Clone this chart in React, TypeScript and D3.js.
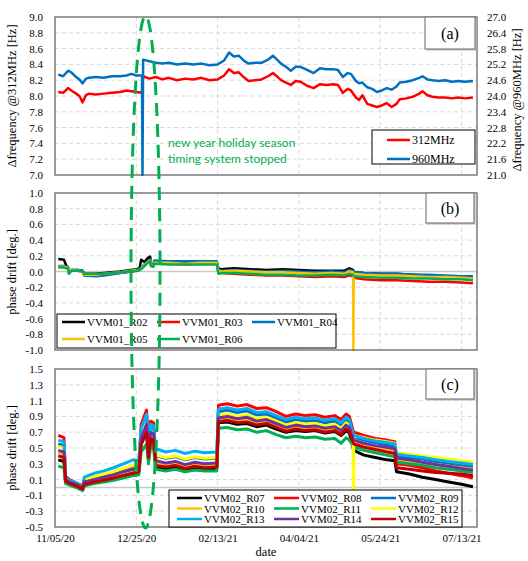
import * as d3 from "d3";
import { useRef, useEffect } from "react";

// x values are days since 11/05/20
const startLabel = "11/05/20";
const xTickLabels = ["11/05/20", "12/25/20", "02/13/21", "04/04/21", "05/24/21", "07/13/21"];

// (a) frequency, 312MHz on left axis, 960MHz on right axis
const daysA = [2, 5, 8, 10, 13, 15, 17, 19, 21, 25, 30, 35, 40, 44, 47, 50, 53.5, 53.8, 54.2, 58,
  62, 66, 70, 75, 80, 85, 90, 95, 100, 104, 107, 110, 113, 116, 119, 123, 127, 131, 134, 137,
  139, 142, 145, 148, 151, 155, 159, 163, 167, 171, 174, 177, 180, 182, 185, 187, 189, 192, 195, 198,
  201, 204, 207, 210, 212, 216, 220, 224, 226, 229, 232, 236, 240, 244, 248, 252, 257];
const f312 = [8.05, 8.04, 8.10, 8.07, 8.03, 8.00, 7.92, 8.01, 8.03, 8.02, 8.03, 8.04, 8.05, 8.07, 8.06, 8.05, 8.04, 8.15, 8.25, 8.22,
  8.24, 8.21, 8.23, 8.20, 8.22, 8.21, 8.23, 8.20, 8.21, 8.26, 8.34, 8.29, 8.30, 8.24, 8.19, 8.20, 8.21, 8.25, 8.29, 8.24,
  8.20, 8.17, 8.14, 8.19, 8.18, 8.13, 8.10, 8.15, 8.14, 8.15, 8.14, 8.04, 8.09, 8.07, 7.98, 7.95, 8.01, 7.90, 7.88, 7.86,
  7.88, 7.91, 7.86, 7.90, 7.96, 7.97, 7.99, 8.03, 8.06, 8.01, 7.99, 7.98, 7.98, 7.97, 7.98, 7.97, 7.98];
const f960 = [24.81, 24.75, 24.96, 24.90, 24.72, 24.63, 24.48, 24.66, 24.69, 24.72, 24.69, 24.75, 24.75, 24.78, 24.84, 24.78, 24.78, 21.0, 25.38, 25.32,
  25.26, 25.23, 25.26, 25.20, 25.23, 25.20, 25.23, 25.17, 25.20, 25.35, 25.65, 25.50, 25.53, 25.35, 25.23, 25.26, 25.26, 25.38, 25.53, 25.35,
  25.23, 25.11, 24.96, 25.11, 25.11, 24.99, 24.87, 25.05, 25.02, 25.02, 24.99, 24.72, 24.87, 24.84, 24.57, 24.48, 24.51, 24.33, 24.27, 24.15,
  24.21, 24.30, 24.24, 24.36, 24.51, 24.54, 24.60, 24.69, 24.75, 24.63, 24.60, 24.57, 24.60, 24.54, 24.57, 24.54, 24.57];

// (b) VVM01 phase drift
const daysB = [2, 5.5, 7, 8, 8.6, 10, 14, 17, 18, 25, 30, 40, 50, 52, 53, 55, 57, 58.5, 59, 60.5,
  61, 70, 80, 90, 99.5, 100.5, 102, 110, 120, 130, 140, 150, 160, 170, 178, 181, 183.3, 183.5, 183.7, 190,
  200, 210, 220, 230, 240, 250, 257];
const r02 = [0.16, 0.15, 0.07, 0.06, -0.02, 0.02, 0.02, 0.01, -0.03, -0.03, -0.02, 0.0, 0.03, 0.04, 0.15, 0.12, 0.17, 0.19, 0.09, 0.08,
  0.12, 0.12, 0.11, 0.12, 0.12, 0.04, 0.03, 0.04, 0.03, 0.02, 0.03, 0.02, 0.01, 0.01, 0.01, 0.04, 0.02, 0.01, -0.01, -0.02,
  -0.03, -0.03, -0.04, -0.05, -0.06, -0.07, -0.08];
const r03 = [0.06, 0.06, 0.05, 0.05, -0.02, 0.02, 0.01, 0.0, -0.05, -0.05, -0.04, -0.02, 0.01, 0.02, 0.04, 0.08, 0.12, 0.14, 0.08, 0.07,
  0.11, 0.10, 0.09, 0.10, 0.10, 0.0, -0.02, -0.03, -0.04, -0.05, -0.05, -0.06, -0.07, -0.06, -0.07, -0.05, -0.06, -0.07, -0.08, -0.10,
  -0.11, -0.11, -0.12, -0.13, -0.13, -0.14, -0.15];
const r04 = [0.07, 0.07, 0.06, 0.05, -0.02, 0.02, 0.02, 0.01, -0.05, -0.06, -0.05, -0.02, 0.01, 0.02, 0.05, 0.09, 0.13, 0.15, 0.08, 0.08,
  0.14, 0.13, 0.13, 0.13, 0.13, 0.02, 0.01, 0.02, 0.01, 0.0, 0.01, 0.0, -0.01, 0.0, -0.01, 0.02, 0.01, 0.0, -0.01, -0.02,
  -0.03, -0.03, -0.04, -0.04, -0.05, -0.06, -0.06];
const r05 = [0.06, 0.06, 0.05, 0.05, -0.02, 0.02, 0.01, 0.0, -0.04, -0.04, -0.03, -0.01, 0.02, 0.02, 0.04, 0.08, 0.12, 0.14, 0.07, 0.07,
  0.11, 0.11, 0.10, 0.11, 0.11, 0.01, 0.0, 0.01, 0.0, -0.01, -0.01, -0.02, -0.03, -0.02, -0.03, 0.0, -0.01, -1.0, -0.03, -0.04,
  -0.05, -0.05, -0.06, -0.07, -0.07, -0.08, -0.09];
const r06 = [0.05, 0.05, 0.04, 0.04, -0.03, 0.01, 0.01, 0.0, -0.03, -0.03, -0.03, -0.01, 0.01, 0.02, 0.03, 0.07, 0.11, 0.13, 0.07, 0.06,
  0.10, 0.09, 0.09, 0.09, 0.09, -0.03, -0.02, -0.02, -0.03, -0.04, -0.04, -0.05, -0.05, -0.04, -0.05, -0.03, -0.04, -0.05, -0.06, -0.07,
  -0.08, -0.08, -0.09, -0.09, -0.10, -0.10, -0.11];

// (c) VVM02 phase drift
const daysC = [2, 5.5, 6.5, 9, 13, 17, 18, 24, 30, 36, 42, 48, 51.5, 53, 56.3, 57.5, 58.8, 60.6, 62, 68,
  74, 80, 86, 92, 99.5, 100.5, 106, 112, 118, 124, 130, 136, 142, 148, 154, 160, 166, 172, 176, 179,
  181, 183.3, 183.5, 183.7, 190, 197, 204, 209, 210, 218, 226, 234, 242, 250, 257];
const r07 = [0.35, 0.33, 0.08, 0.05, 0.02, -0.02, 0.03, 0.07, 0.09, 0.11, 0.14, 0.17, 0.19, 0.55, 0.70, 0.35, 0.60, 0.58, 0.25, 0.24,
  0.26, 0.22, 0.25, 0.23, 0.24, 0.82, 0.83, 0.80, 0.81, 0.77, 0.79, 0.74, 0.70, 0.72, 0.71, 0.72, 0.69, 0.71, 0.66, 0.72,
  0.69, 0.50, 0.48, 0.47, 0.41, 0.38, 0.35, 0.34, 0.20, 0.17, 0.13, 0.10, 0.07, 0.04, 0.01];
const r08 = [0.66, 0.63, 0.14, 0.10, 0.06, 0.02, 0.06, 0.09, 0.12, 0.14, 0.17, 0.20, 0.22, 0.80, 0.98, 0.55, 0.84, 0.82, 0.32, 0.30,
  0.31, 0.28, 0.30, 0.29, 0.30, 1.04, 1.06, 1.03, 1.05, 1.00, 1.01, 0.96, 0.90, 0.93, 0.91, 0.92, 0.89, 0.91, 0.86, 0.93,
  0.90, 0.72, 0.71, 0.70, 0.66, 0.62, 0.60, 0.58, 0.30, 0.28, 0.25, 0.21, 0.18, 0.15, 0.12];
const r09 = [0.55, 0.53, 0.10, 0.07, 0.04, 0.0, 0.09, 0.13, 0.16, 0.19, 0.23, 0.27, 0.28, 0.70, 0.88, 0.48, 0.76, 0.74, 0.40, 0.37,
  0.39, 0.35, 0.38, 0.36, 0.37, 0.96, 0.98, 0.95, 0.97, 0.92, 0.93, 0.88, 0.83, 0.86, 0.84, 0.85, 0.82, 0.84, 0.79, 0.86,
  0.83, 0.66, 0.65, 0.64, 0.60, 0.57, 0.54, 0.52, 0.40, 0.38, 0.36, 0.33, 0.31, 0.28, 0.26];
const r10 = [0.44, 0.42, 0.09, 0.06, 0.03, -0.01, 0.06, 0.10, 0.13, 0.15, 0.19, 0.22, 0.23, 0.60, 0.78, 0.42, 0.68, 0.66, 0.31, 0.29,
  0.31, 0.27, 0.30, 0.28, 0.29, 0.85, 0.87, 0.84, 0.86, 0.81, 0.83, 0.78, 0.73, 0.76, 0.74, 0.75, 0.72, 0.74, 0.69, 0.76,
  0.73, 0.60, 0.59, 0.58, 0.54, 0.51, 0.48, 0.46, 0.35, 0.33, 0.31, 0.29, 0.27, 0.25, 0.23];
const r11 = [0.27, 0.25, 0.05, 0.03, 0.0, -0.04, 0.02, 0.05, 0.07, 0.09, 0.12, 0.15, 0.16, 0.45, 0.55, 0.30, 0.52, 0.50, 0.23, 0.21,
  0.23, 0.20, 0.22, 0.21, 0.21, 0.75, 0.76, 0.73, 0.74, 0.70, 0.72, 0.67, 0.63, 0.65, 0.63, 0.64, 0.61, 0.62, 0.56, 0.63,
  0.60, 0.53, 0.52, 0.51, 0.47, 0.44, 0.41, 0.39, 0.32, 0.30, 0.28, 0.25, 0.23, 0.21, 0.19];
const r12 = [0.52, 0.50, 0.11, 0.08, 0.05, 0.0, 0.10, 0.14, 0.17, 0.20, 0.24, 0.28, 0.29, 0.68, 0.85, 0.46, 0.72, 0.70, 0.41, 0.38,
  0.40, 0.36, 0.39, 0.37, 0.38, 0.91, 0.93, 0.90, 0.92, 0.87, 0.89, 0.84, 0.79, 0.82, 0.80, 0.81, 0.78, 0.80, 0.75, 0.82,
  0.79, 0.68, -0.5, 0.66, 0.63, 0.60, 0.58, 0.56, 0.44, 0.42, 0.40, 0.38, 0.36, 0.34, 0.32];
const r13 = [0.60, 0.58, 0.12, 0.09, 0.06, 0.01, 0.13, 0.18, 0.21, 0.25, 0.30, 0.35, 0.34, 0.75, 0.93, 0.52, 0.80, 0.78, 0.49, 0.45,
  0.47, 0.43, 0.46, 0.44, 0.45, 0.99, 1.01, 0.98, 1.00, 0.95, 0.96, 0.91, 0.86, 0.89, 0.87, 0.88, 0.85, 0.87, 0.82, 0.89,
  0.86, 0.68, 0.67, 0.66, 0.62, 0.59, 0.57, 0.55, 0.42, 0.40, 0.38, 0.35, 0.33, 0.31, 0.29];
const r14 = [0.47, 0.45, 0.10, 0.07, 0.04, 0.0, 0.07, 0.10, 0.13, 0.16, 0.20, 0.23, 0.24, 0.62, 0.80, 0.43, 0.70, 0.68, 0.34, 0.31,
  0.33, 0.29, 0.32, 0.30, 0.31, 0.88, 0.90, 0.87, 0.89, 0.84, 0.86, 0.81, 0.76, 0.79, 0.77, 0.78, 0.75, 0.77, 0.72, 0.79,
  0.76, 0.62, 0.61, 0.60, 0.56, 0.53, 0.51, 0.49, 0.37, 0.35, 0.32, 0.29, 0.27, 0.24, 0.22];
const r15 = [0.40, 0.38, 0.08, 0.05, 0.02, -0.02, 0.04, 0.07, 0.09, 0.12, 0.15, 0.18, 0.20, 0.55, 0.70, 0.38, 0.62, 0.60, 0.28, 0.26,
  0.28, 0.24, 0.27, 0.25, 0.26, 0.83, 0.85, 0.82, 0.83, 0.79, 0.81, 0.76, 0.71, 0.74, 0.72, 0.73, 0.70, 0.72, 0.67, 0.74,
  0.71, 0.57, 0.56, 0.55, 0.51, 0.48, 0.45, 0.43, 0.25, 0.23, 0.21, 0.19, 0.18, 0.17, 0.15];

const aLeftTicks = [7.0, 7.2, 7.4, 7.6, 7.8, 8.0, 8.2, 8.4, 8.6, 8.8, 9.0];
const aRightTicks = [21.0, 21.6, 22.2, 22.8, 23.4, 24.0, 24.6, 25.2, 25.8, 26.4, 27.0];
const bTicks = [-1.0, -0.8, -0.6, -0.4, -0.2, 0.0, 0.2, 0.4, 0.6, 0.8, 1.0];
const cTicks = [-0.5, -0.3, -0.1, 0.1, 0.3, 0.5, 0.7, 0.9, 1.1, 1.3, 1.5];

const serif = "'Liberation Serif', 'Times New Roman', serif";
const left = 55, right = 477;

export default function App() {
  const ref = useRef<SVGSVGElement>(null);

  useEffect(() => {
    const svg = d3.select(ref.current);
    svg.selectAll("*").remove();

    const parse = d3.timeParse("%m/%d/%y");
    const t0 = parse(startLabel)!;
    const toDate = (d: number) => new Date(t0.getTime() + d * 864e5);
    const x = d3.scaleTime().domain([t0, toDate(259.5)]).range([left, right]);
    const xTicks = xTickLabels.map((s) => parse(s)!);

    // one panel frame + grid, returns y scale
    const panel = (top: number, bottom: number, domain: number[], ticks: number[], zero: boolean) => {
      const y = d3.scaleLinear().domain(domain).range([bottom, top]);
      const g = svg.append("g");
      g.selectAll(".hg").data(ticks.slice(1, -1)).enter().append("line")
        .attr("x1", left).attr("x2", right)
        .attr("y1", (d) => y(d)).attr("y2", (d) => y(d))
        .attr("stroke", "#d9d9d9").attr("stroke-dasharray", "4 3");
      g.selectAll(".vg").data(xTicks.slice(1)).enter().append("line")
        .attr("x1", (d) => x(d)).attr("x2", (d) => x(d))
        .attr("y1", top).attr("y2", bottom)
        .attr("stroke", "#d9d9d9").attr("stroke-dasharray", "4 3");
      if (zero) {
        g.append("line").attr("x1", left).attr("x2", right)
          .attr("y1", y(0)).attr("y2", y(0))
          .attr("stroke", "#c8c8c8").attr("stroke-width", 1.5);
      }
      const ax = svg.append("g").attr("transform", `translate(${left},0)`)
        .call(d3.axisLeft(y).tickValues(ticks).tickSize(0).tickPadding(12).tickFormat((d) => (+d).toFixed(1)));
      ax.select(".domain").remove();
      ax.attr("font-family", serif).attr("font-size", 11);
      ax.selectAll("text").attr("fill", "#000");
      return y;
    };

    const drawLine = (days: number[], vals: number[], y: any, color: string, w: number) => {
      const pts = days.map((d, i) => [d, vals[i]] as [number, number]);
      svg.append("path").datum(pts)
        .attr("fill", "none").attr("stroke", color).attr("stroke-width", w)
        .attr("stroke-linejoin", "round")
        .attr("d", d3.line<[number, number]>().x((p) => x(toDate(p[0]))).y((p) => y(p[1])));
    };

    const frame = (top: number, bottom: number) => {
      svg.append("rect").attr("x", left).attr("y", top).attr("width", right - left).attr("height", bottom - top)
        .attr("fill", "none").attr("stroke", "#595959").attr("stroke-width", 1.2);
    };

    const labelBox = (bx: number, by: number, w: number, h: number, txt: string) => {
      svg.append("rect").attr("x", bx + 1.5).attr("y", by + 1.5).attr("width", w).attr("height", h).attr("fill", "#bfbfbf");
      svg.append("rect").attr("x", bx).attr("y", by).attr("width", w).attr("height", h)
        .attr("fill", "#fff").attr("stroke", "#7f7f7f").attr("stroke-width", 1.2);
      svg.append("text").attr("x", bx + w / 2).attr("y", by + h / 2 + 5.5).attr("text-anchor", "middle")
        .attr("font-family", serif).attr("font-size", 16).text(txt);
    };

    const legend = (bx: number, by: number, w: number, h: number, items: [string, string][], cols: number,
      colW: number, rowY: number[], lineW: number, x0: number, fs: number) => {
      svg.append("rect").attr("x", bx).attr("y", by).attr("width", w).attr("height", h)
        .attr("fill", "#fff").attr("stroke", "#000").attr("stroke-width", 1);
      items.forEach(([name, color], i) => {
        const cx = x0 + (i % cols) * colW;
        const cy = rowY[Math.floor(i / cols)];
        svg.append("line").attr("x1", cx).attr("x2", cx + lineW).attr("y1", cy).attr("y2", cy)
          .attr("stroke", color).attr("stroke-width", 2.5);
        svg.append("text").attr("x", cx + lineW + 2).attr("y", cy + 4).attr("font-family", serif)
          .attr("font-size", fs).text(name);
      });
    };

    const yTitle = (cx: number, cy: number, txt: string) => {
      svg.append("text").attr("transform", `translate(${cx},${cy}) rotate(-90)`).attr("text-anchor", "middle")
        .attr("font-family", serif).attr("font-size", 12.5).text(txt);
    };

    // ---- (a)
    const yA = panel(17, 175, [7, 9], aLeftTicks, false);
    const yA2 = d3.scaleLinear().domain([21, 27]).range([175, 17]);
    const axR = svg.append("g").attr("transform", `translate(${right},0)`)
      .call(d3.axisRight(yA2).tickValues(aRightTicks).tickSize(0).tickPadding(10).tickFormat((d) => (+d).toFixed(1)));
    axR.select(".domain").remove();
    axR.attr("font-family", serif).attr("font-size", 11);
    axR.selectAll("text").attr("fill", "#000");
    drawLine(daysA, f312, yA, "#ff0000", 2.5);
    drawLine(daysA, f960, yA2, "#0070c0", 2.5);
    frame(17, 175);
    yTitle(16, 96, "Δfrequency @312MHz [Hz]");
    yTitle(521, 100, "Δfrequency @960MHz [Hz]");
    legend(372, 130, 103, 34, [["312MHz", "#ff0000"], ["960MHz", "#0070c0"]], 1, 0, [140, 159], 23, 387, 12);
    labelBox(425, 17, 50, 32, "(a)");

    // ---- (b)
    const yB = panel(193, 350, [-1, 1], bTicks, true);
    const bSeries: [string, number[], string][] = [
      ["VVM01_R02", r02, "#000000"], ["VVM01_R03", r03, "#ff0000"], ["VVM01_R04", r04, "#0070c0"],
      ["VVM01_R05", r05, "#ffc000"], ["VVM01_R06", r06, "#00b050"]];
    bSeries.forEach(([, v, c]) => drawLine(daysB, v, yB, c, 2.5));
    frame(193, 350);
    yTitle(16, 272, "phase drift [deg.]");
    legend(57, 314, 279, 34, bSeries.map(([n, , c]) => [n, c] as [string, string]), 3, 95, [322, 339], 23, 62, 11);
    labelBox(426, 193, 48, 30, "(b)");

    // ---- (c)
    const yC = panel(369, 527, [-0.5, 1.5], cTicks, true);
    const cSeries: [string, number[], string][] = [
      ["VVM02_R07", r07, "#000000"], ["VVM02_R08", r08, "#ff0000"], ["VVM02_R09", r09, "#0070c0"],
      ["VVM02_R10", r10, "#ffc000"], ["VVM02_R11", r11, "#00b050"], ["VVM02_R12", r12, "#ffff00"],
      ["VVM02_R13", r13, "#00b0f0"], ["VVM02_R14", r14, "#7030a0"], ["VVM02_R15", r15, "#c00000"]];
    cSeries.forEach(([, v, c]) => drawLine(daysC, v, yC, c, 3));
    frame(369, 527);
    yTitle(16, 448, "phase drift [deg.]");
    legend(169, 490, 293, 37, cSeries.map(([n, , c]) => [n, c] as [string, string]), 3, 97, [498, 508.5, 519], 25, 177, 11);
    labelBox(426, 369, 48, 30, "(c)");

    // x axis
    const axX = svg.append("g").attr("transform", `translate(0,527)`)
      .call(d3.axisBottom(x).tickValues(xTicks).tickSize(0).tickPadding(7).tickFormat((d) => d3.timeFormat("%m/%d/%y")(d as Date)));
    axX.select(".domain").remove();
    axX.attr("font-family", serif).attr("font-size", 11);
    axX.selectAll("text").attr("fill", "#000");
    svg.append("text").attr("x", 266).attr("y", 556).attr("text-anchor", "middle")
      .attr("font-family", serif).attr("font-size", 12.5).text("date");

    // holiday annotation
    svg.append("ellipse").attr("cx", 145.5).attr("cy", 272).attr("rx", 14.5).attr("ry", 256)
      .attr("fill", "none").attr("stroke", "#00b050").attr("stroke-width", 3).attr("stroke-dasharray", "13 8");
    svg.append("text").attr("x", 168).attr("y", 147).attr("font-family", "Lato, 'Noto Sans', sans-serif")
      .attr("font-size", 12).attr("fill", "#00b050").text("new year holiday season");
    svg.append("text").attr("x", 168).attr("y", 163).attr("font-family", "Lato, 'Noto Sans', sans-serif")
      .attr("font-size", 12).attr("fill", "#00b050").text("timing system stopped");
  }, []);

  return (
    <div style={{ position: "absolute", left: 0, top: 0 }}>
      <svg ref={ref} width={528} height={561}></svg>
    </div>
  );
}
